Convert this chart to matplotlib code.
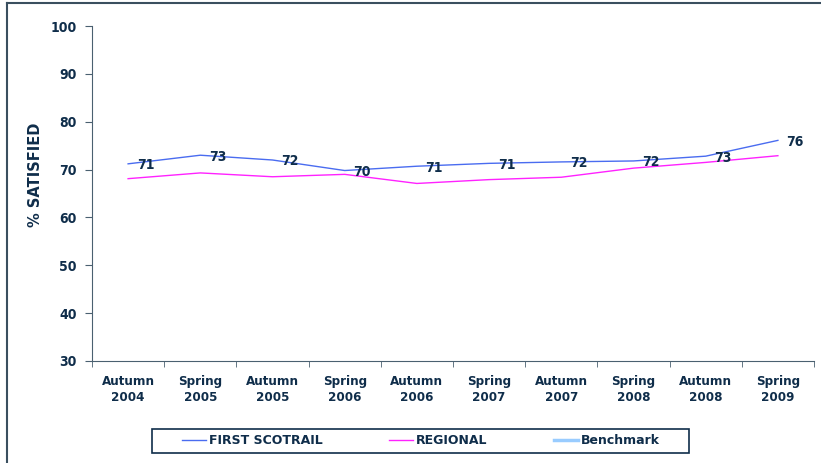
import matplotlib.pyplot as plt
from matplotlib.lines import Line2D
from matplotlib.patches import Rectangle
from matplotlib.ticker import FixedLocator

periods = ["Autumn\n2004", "Spring\n2005", "Autumn\n2005", "Spring\n2006", "Autumn\n2006",
           "Spring\n2007", "Autumn\n2007", "Spring\n2008", "Autumn\n2008", "Spring\n2009"]
scotrail = [71.2, 73.0, 72.0, 69.8, 70.7, 71.3, 71.6, 71.8, 72.8, 76.1]
scotrail_labels = ["71", "73", "72", "70", "71", "71", "72", "72", "73", "76"]
regional = [68.1, 69.3, 68.5, 69.0, 67.1, 67.9, 68.4, 70.3, 71.5, 72.9]

navy = "#0f2d4a"
spine = "#4a6070"
W, H = 821, 463

plt.rcParams["font.stretch"] = "condensed"

fig = plt.figure(figsize=(W / 100, H / 100), dpi=100)
ax = fig.add_axes([92 / W, 1 - 361 / H, (814 - 92) / W, (361 - 26) / H])

x = list(range(len(periods)))
ax.plot(x, scotrail, color="#4a6cf0", lw=1.0, label="FIRST SCOTRAIL")
ax.plot(x, regional, color="#ff22ff", lw=1.0, label="REGIONAL")
ax.plot([], [], color="#99ccff", lw=2.5, label="Benchmark")

for xi, yi, lab in zip(x, scotrail, scotrail_labels):
    ax.annotate(lab, (xi, yi), xytext=(12.5, -1), textcoords="offset points",
                ha="center", va="center", fontsize=10, fontweight="bold", color=navy)

ax.set_xlim(-0.5, len(periods) - 0.5)
ax.set_ylim(30, 100)
ax.set_yticks(range(30, 101, 10))
ax.set_xticks(x)
ax.set_xticklabels(periods, fontsize=9.5, fontweight="bold", color=navy, linespacing=1.35)
ax.xaxis.set_minor_locator(FixedLocator([i - 0.5 for i in range(len(periods) + 1)]))
ax.tick_params(axis="x", which="major", length=0, pad=10)
ax.tick_params(axis="x", which="minor", length=4, color=spine, direction="out")
ax.tick_params(axis="y", length=5, color=spine, pad=6, labelsize=10, labelcolor=navy)
for t in ax.get_yticklabels():
    t.set_fontweight("bold")

for s in ["top", "right"]:
    ax.spines[s].set_visible(False)
for s in ["left", "bottom"]:
    ax.spines[s].set_color(spine)

fig.text(36 / W, 1 - 175 / H, "% SATISFIED", rotation=90, ha="center", va="center",
         fontsize=10.5, fontweight="bold", fontstretch="normal", color=navy)

# legend box drawn separately, legend entries without frame
fig.add_artist(Rectangle((152 / W, 1 - 453 / H), (689 - 152) / W, (453 - 429) / H,
                         transform=fig.transFigure, fill=False, edgecolor=navy, lw=1.2))
leg = fig.legend(loc="center", bbox_to_anchor=(421 / W, 1 - 441 / H), ncol=3,
                 frameon=False, handlelength=1.9, handletextpad=0.25,
                 columnspacing=5.3, prop={"size": 9, "weight": "bold", "stretch": "normal"},
                 borderpad=0, borderaxespad=0)
for t in leg.get_texts():
    t.set_color(navy)

# outer frame (top and left edges visible)
fig.add_artist(Line2D([7 / W, 7 / W], [0, 1 - 3 / H], transform=fig.transFigure,
                      color="#3a4f5f", lw=1.5))
fig.add_artist(Line2D([7 / W, 1], [1 - 3 / H, 1 - 3 / H], transform=fig.transFigure,
                      color="#3a4f5f", lw=1.5))

fig.savefig("out.png", dpi=100)
